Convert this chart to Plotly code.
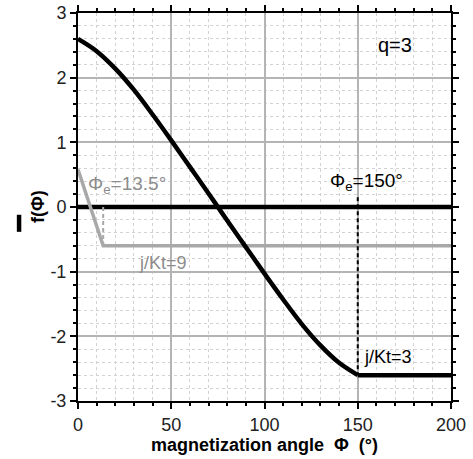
import plotly.graph_objects as go

# f(Phi) for q=3 (black): curved part up to Phi_e = 150 deg, then flat
phi_q3 = [0, 10, 20, 30, 40, 50, 60, 70, 75, 80, 90, 100, 110, 120, 130, 140, 150]
f_q3 = [2.60, 2.41, 2.14, 1.81, 1.43, 1.03, 0.62, 0.21, 0.0, -0.21, -0.62, -1.03, -1.43, -1.81, -2.14, -2.41, -2.60]
phi_q3_flat = [150, 200]
f_q3_flat = [-2.60, -2.60]

# f(Phi) for j/Kt=9 (grey): drops until Phi_e = 13.5 deg, then flat
phi_k9 = [0, 13.5, 200]
f_k9 = [0.58, -0.60, -0.60]

# reference zero line
phi_zero = [0, 200]
f_zero = [0, 0]

# Phi_e markers
phi_e_q3 = [150, 150]
f_e_q3 = [0.15, -2.60]
phi_e_k9 = [13.5, 13.5]
f_e_k9 = [0, -0.60]

x_ticks = [0, 50, 100, 150, 200]
x_ticktext = ["0", "50", "100", "150", "200"]
y_ticks = [-3, -2, -1, 0, 1, 2, 3]
y_ticktext = ["-3", "-2", "-1", "0", "1", "2", "3"]

BLACK = "#000000"
GREY = "#a8a8a8"
LABEL_GREY = "#8c8c8c"
FONT = "Arial"

fig = go.Figure()
fig.add_trace(go.Scatter(x=phi_zero, y=f_zero, mode="lines",
                         line=dict(color=BLACK, width=4.5)))
fig.add_trace(go.Scatter(x=phi_k9, y=f_k9, mode="lines",
                         line=dict(color=GREY, width=3.5)))
fig.add_trace(go.Scatter(x=phi_e_k9, y=f_e_k9, mode="lines",
                         line=dict(color=GREY, width=2, dash="4px,3px")))
fig.add_trace(go.Scatter(x=phi_e_q3, y=f_e_q3, mode="lines",
                         line=dict(color=BLACK, width=2, dash="4px,3px")))
fig.add_trace(go.Scatter(x=phi_q3, y=f_q3, mode="lines",
                         line=dict(color=BLACK, width=4.5, shape="spline", smoothing=1.0)))
fig.add_trace(go.Scatter(x=phi_q3_flat, y=f_q3_flat, mode="lines",
                         line=dict(color=BLACK, width=4.5)))

axis_common = dict(
    showline=True, linecolor=BLACK, linewidth=2, mirror="allticks",
    ticks="outside", ticklen=6, tickwidth=1.5, tickcolor=BLACK,
    showgrid=True, gridcolor="#b4b4b4", gridwidth=1.5,
    zeroline=False, automargin=False,
    tickfont=dict(family=FONT, size=18, color="#222222"),
)

fig.update_xaxes(
    range=[0, 200], tickvals=x_ticks, ticktext=x_ticktext,
    minor=dict(dtick=10, showgrid=True, gridcolor="#d2d2d2", griddash="dot",
               gridwidth=1, ticks="outside", ticklen=3, tickcolor=BLACK),
    title=dict(text="<b>magnetization angle  Φ  (°)</b>",
               font=dict(family=FONT, size=18, color=BLACK), standoff=0),
    **axis_common,
)
fig.update_yaxes(
    range=[-3, 3], tickvals=y_ticks, ticktext=y_ticktext,
    minor=dict(dtick=0.2, showgrid=True, gridcolor="#d2d2d2", griddash="dot",
               gridwidth=1, ticks="outside", ticklen=3, tickcolor=BLACK),
    **axis_common,
)

annotations = [
    dict(x=170, y=2.51, text="q=3", font=dict(size=20, color=BLACK),
         xanchor="center", yanchor="middle"),
    dict(x=4.5, y=0.34, text="Φ<sub>e</sub>=13.5°", font=dict(size=19, color=LABEL_GREY),
         xanchor="left", yanchor="middle"),
    dict(x=134, y=0.39, text="Φ<sub>e</sub>=150°", font=dict(size=19, color=BLACK),
         xanchor="left", yanchor="middle"),
    dict(x=45.7, y=-0.87, text="j/Kt=9", font=dict(size=18, color=LABEL_GREY),
         xanchor="center", yanchor="middle"),
    dict(x=152.5, y=-2.32, text="j/Kt=3", font=dict(size=18, color=BLACK),
         xanchor="left", yanchor="middle"),
]
for a in annotations:
    a["font"]["family"] = FONT
    fig.add_annotation(showarrow=False, **a)

# y-axis label, rotated, with its short bar
fig.add_annotation(xref="paper", yref="paper", x=-0.107, y=0.50,
                   text="<b>f(Φ)</b>", textangle=-90, showarrow=False,
                   font=dict(family=FONT, size=18, color=BLACK),
                   xanchor="center", yanchor="middle")
fig.add_shape(type="rect", xref="paper", yref="paper",
              x0=-0.164, x1=-0.152, y0=0.436, y1=0.480,
              fillcolor=BLACK, line=dict(width=0))

fig.update_layout(
    width=473, height=459,
    margin=dict(l=78, r=22, t=13, b=58, autoexpand=False),
    paper_bgcolor="white", plot_bgcolor="white",
    showlegend=False,
    font=dict(family=FONT),
)

fig.write_html("out.html")
